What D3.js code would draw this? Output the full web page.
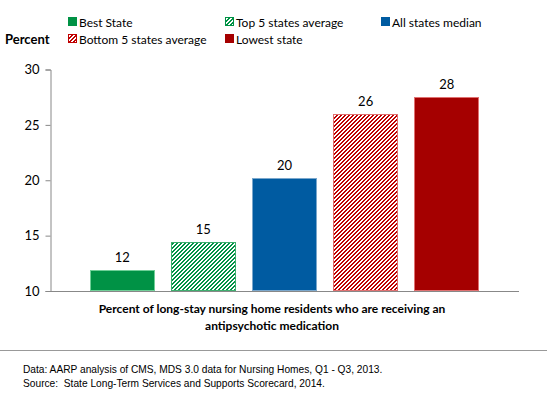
<!DOCTYPE html>
<html>
<head>
<meta charset="utf-8">
<script src="https://cdn.jsdelivr.net/npm/d3@7"></script>
<style>
  body { margin: 0; background: #fff; }
  svg { display: block; }
</style>
</head>
<body>
<div id="chart"></div>
<script>
// data
var categories = ["Best State", "Top 5 states average", "All states median", "Bottom 5 states average", "Lowest state"];
var values = [11.9, 14.4, 20.2, 26.0, 27.5];
var labels = ["12", "15", "20", "26", "28"];
var yTicks = [10, 15, 20, 25, 30];

var colors = ["#009245", "#009245", "#005BA1", "#C00000", "#A50000"];
var hatched = [false, true, false, true, false];
var strokes = ["#6fcf97", "#3fae6f", "#7aa7cc", "#e07070", "#e07070"];

var width = 547, height = 397;
var font = "Lato, 'Open Sans', sans-serif";

var svg = d3.select("#chart").append("svg")
    .attr("width", width)
    .attr("height", height);

// pixel hatch, upward diagonal, 4px period
var defs = svg.append("defs");
hatched.forEach(function(h, i) {
    if (!h) return;
    var p = defs.append("pattern")
        .attr("id", "hatch" + i)
        .attr("patternUnits", "userSpaceOnUse")
        .attr("width", 4).attr("height", 4);
    p.append("rect").attr("width", 4).attr("height", 4).attr("fill", "#fff");
    for (var r = 0; r < 4; r++) {
        for (var k = 0; k < 2; k++) {
            p.append("rect")
                .attr("x", (3 - r + k + 4) % 4).attr("y", r)
                .attr("width", 1).attr("height", 1)
                .attr("shape-rendering", "crispEdges")
                .attr("fill", colors[i]);
        }
    }
});
function fillOf(i) { return hatched[i] ? "url(#hatch" + i + ")" : colors[i]; }

var x = d3.scaleBand()
    .domain(categories)
    .range([50, 519])
    .paddingInner(0.2)
    .paddingOuter(0.49);

var y = d3.scaleLinear()
    .domain([10, 30])
    .range([291, 69.5]);

// y axis
var yAxis = svg.append("g")
    .attr("transform", "translate(50.5,0)")
    .call(d3.axisLeft(y).tickValues(yTicks).tickSize(5).tickPadding(6));
yAxis.select(".domain").attr("stroke", "#888");
yAxis.selectAll(".tick line").attr("stroke", "#888");
yAxis.selectAll(".tick text")
    .attr("font-family", font).attr("font-size", 13).attr("fill", "#000");

// bars
svg.selectAll(".bar")
    .data(values)
    .enter().append("rect")
        .attr("class", "bar")
        .attr("x", function(d, i) { return Math.round(x(categories[i])) + 0.5; })
        .attr("y", function(d) { return Math.round(y(d)) + 0.5; })
        .attr("width", Math.round(x.bandwidth()) - 1)
        .attr("height", function(d) { return Math.round(y(10)) - Math.round(y(d)) - 1; })
        .attr("fill", function(d, i) { return fillOf(i); })
        .attr("stroke", function(d, i) { return strokes[i]; })
        .attr("stroke-width", 1);

// x axis line
svg.append("line")
    .attr("x1", 50).attr("x2", 519)
    .attr("y1", 291.5).attr("y2", 291.5)
    .attr("stroke", "#888");

// value labels
svg.selectAll(".val")
    .data(values)
    .enter().append("text")
        .attr("class", "val")
        .attr("x", function(d, i) { return x(categories[i]) + x.bandwidth() / 2; })
        .attr("y", function(d) { return y(d) - 8; })
        .attr("text-anchor", "middle")
        .attr("font-family", font).attr("font-size", 13)
        .text(function(d, i) { return labels[i]; });

// y title
svg.append("text")
    .attr("x", 5).attr("y", 44)
    .attr("font-family", font).attr("font-size", 13).attr("font-weight", "bold")
    .text("Percent");

// legend
var legendPos = [[68, 22], [225, 22], [381, 22], [68, 39], [225, 39]];
var leg = svg.selectAll(".leg")
    .data(categories)
    .enter().append("g")
        .attr("class", "leg")
        .attr("transform", function(d, i) { return "translate(" + legendPos[i][0] + "," + legendPos[i][1] + ")"; });
leg.append("rect")
    .attr("x", 0.5).attr("y", -4.5)
    .attr("width", 8).attr("height", 8)
    .attr("fill", function(d, i) { return fillOf(i); })
    .attr("stroke", function(d, i) { return colors[i]; })
    .attr("stroke-width", 1);
leg.append("text")
    .attr("x", 11).attr("y", 4.5)
    .attr("font-family", font).attr("font-size", 12)
    .text(function(d) { return d; });

// x title
var xt = svg.append("text")
    .attr("text-anchor", "middle")
    .attr("font-family", font).attr("font-size", 12).attr("font-weight", "bold");
xt.append("tspan").attr("x", 272).attr("y", 313)
    .text("Percent of long-stay nursing home residents who are receiving an");
xt.append("tspan").attr("x", 272).attr("y", 330)
    .text("antipsychotic medication");

// separator
svg.append("line")
    .attr("x1", 0).attr("x2", width)
    .attr("y1", 350.5).attr("y2", 350.5)
    .attr("stroke", "#999");

// footer
var foot = ["Data: AARP analysis of CMS, MDS 3.0 data for Nursing Homes, Q1 - Q3, 2013.",
            "Source:  State Long-Term Services and Supports Scorecard, 2014."];
svg.selectAll(".foot")
    .data(foot)
    .enter().append("text")
        .attr("class", "foot")
        .attr("x", 23)
        .attr("y", function(d, i) { return 373 + i * 14; })
        .attr("font-family", "'Liberation Sans', Arial, sans-serif")
        .attr("font-size", 10.2)
        .attr("xml:space", "preserve")
        .style("white-space", "pre")
        .text(function(d) { return d; });
</script>
</body>
</html>
